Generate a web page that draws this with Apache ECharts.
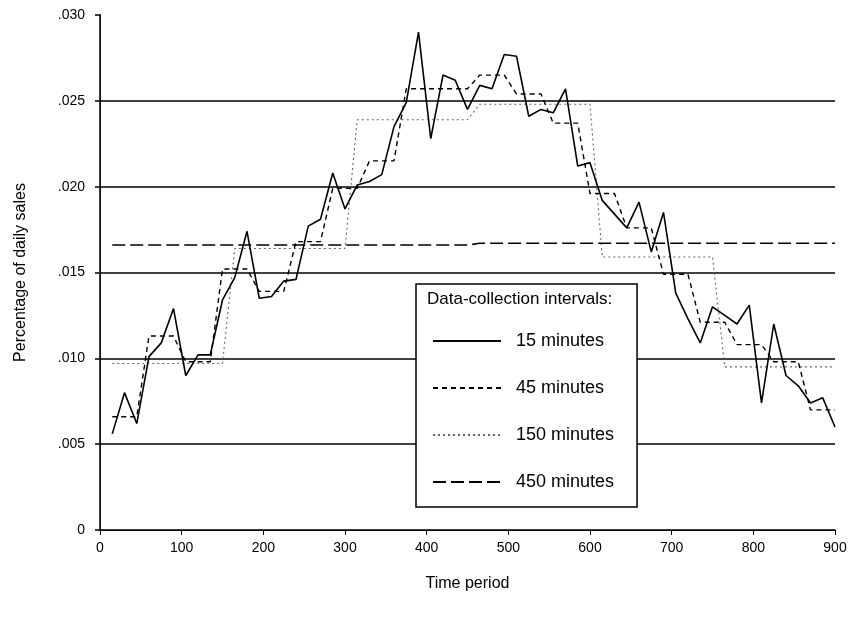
<!DOCTYPE html>
<html>
<head>
<meta charset="utf-8">
<script src="https://cdn.jsdelivr.net/npm/echarts@6/dist/echarts.min.js"></script>
<style>
    html, body { margin: 0; padding: 0; background: #fff; }
    #chart { width: 860px; height: 621px; }
</style>
</head>
<body>
<div id="chart"></div>
<script>
// time points (minutes)
const times = [15, 30, 45, 60, 75, 90, 105, 120, 135, 150,
    165, 180, 195, 210, 225, 240, 255, 270, 285, 300,
    315, 330, 345, 360, 375, 390, 405, 420, 435, 450,
    465, 480, 495, 510, 525, 540, 555, 570, 585, 600,
    615, 630, 645, 660, 675, 690, 705, 720, 735, 750,
    765, 780, 795, 810, 825, 840, 855, 870, 885, 900];

const sales15 = [.0056, .0080, .0062, .0101, .0109, .0129, .0090, .0102, .0102, .0134,
    .0147, .0174, .0135, .0136, .0145, .0146, .0177, .0181, .0208, .0187,
    .0201, .0203, .0207, .0235, .0249, .0290, .0228, .0265, .0262, .0245,
    .0259, .0257, .0277, .0276, .0241, .0245, .0243, .0257, .0212, .0214,
    .0192, .0184, .0176, .0191, .0162, .0185, .0138, .0123, .0109, .0130,
    .0125, .0120, .0131, .0074, .0120, .0090, .0084, .0074, .0077, .0060];

const sales45 = [.0066, .0066, .0066, .0113, .0113, .0113, .0098, .0098, .0098, .0152,
    .0152, .0152, .0139, .0139, .0139, .0168, .0168, .0168, .0199, .0199,
    .0199, .0215, .0215, .0215, .0257, .0257, .0257, .0257, .0257, .0257,
    .0265, .0265, .0265, .0254, .0254, .0254, .0237, .0237, .0237, .0196,
    .0196, .0196, .0176, .0176, .0176, .0149, .0149, .0149, .0121, .0121,
    .0121, .0108, .0108, .0108, .0098, .0098, .0098, .0070, .0070, .0070];

const sales150 = [.0097, .0097, .0097, .0097, .0097, .0097, .0097, .0097, .0097, .0097,
    .0164, .0164, .0164, .0164, .0164, .0164, .0164, .0164, .0164, .0164,
    .0239, .0239, .0239, .0239, .0239, .0239, .0239, .0239, .0239, .0239,
    .0248, .0248, .0248, .0248, .0248, .0248, .0248, .0248, .0248, .0248,
    .0159, .0159, .0159, .0159, .0159, .0159, .0159, .0159, .0159, .0159,
    .0095, .0095, .0095, .0095, .0095, .0095, .0095, .0095, .0095, .0095];

const sales450 = [.0166, .0166, .0166, .0166, .0166, .0166, .0166, .0166, .0166, .0166,
    .0166, .0166, .0166, .0166, .0166, .0166, .0166, .0166, .0166, .0166,
    .0166, .0166, .0166, .0166, .0166, .0166, .0166, .0166, .0166, .0166,
    .0167, .0167, .0167, .0167, .0167, .0167, .0167, .0167, .0167, .0167,
    .0167, .0167, .0167, .0167, .0167, .0167, .0167, .0167, .0167, .0167,
    .0167, .0167, .0167, .0167, .0167, .0167, .0167, .0167, .0167, .0167];

const seriesNames = ['15 minutes', '45 minutes', '150 minutes', '450 minutes'];
const yTickLabels = {0: '0', 0.005: '.005', 0.01: '.010', 0.015: '.015', 0.02: '.020', 0.025: '.025', 0.03: '.030'};

const font = 'Liberation Sans, Arial, Helvetica, sans-serif';
const chart = echarts.init(document.getElementById('chart'));

function pairs(vals) {
    return times.map((t, i) => [t, vals[i]]);
}

const option = {
    animation: false,
    textStyle: { fontFamily: font },
    grid: {
        left: 100,
        right: 25,
        top: 15,
        bottom: 91,
    },
    legend: {
        orient: 'vertical',
        left: 416,
        top: 284,
        data: seriesNames,
        selectedMode: false,
        itemWidth: 68,
        itemHeight: 14,
        itemGap: 29,
        padding: [48, 23, 16, 16],
        backgroundColor: '#fff',
        borderColor: '#000',
        borderWidth: 1.5,
        borderRadius: 0,
        itemStyle: { opacity: 0 },
        textStyle: {
            fontSize: 18,
            color: '#000',
            fontFamily: font,
            padding: [0, 0, 0, 10],
        },
    },
    graphic: [{
        type: 'text',
        left: 427,
        top: 291,
        z: 100,
        style: {
            text: 'Data-collection intervals:',
            fontSize: 17,
            fontFamily: font,
            fill: '#000',
        },
    }],
    xAxis: [{
        type: 'value',
        min: 0,
        max: 900,
        interval: 100,
        name: 'Time period',
        nameLocation: 'middle',
        nameGap: 46,
        nameTextStyle: { fontSize: 16, color: '#000' },
        axisLine: { lineStyle: { color: '#000', width: 1.5 } },
        axisTick: { length: 5, lineStyle: { color: '#000' } },
        axisLabel: { fontSize: 14, color: '#000', margin: 11 },
        splitLine: { show: false },
    }, {
        type: 'value',
        position: 'top',
        min: 0,
        max: 900,
        axisLine: { show: true, lineStyle: { color: '#000', type: 'dotted', width: 1 } },
        axisTick: { show: false },
        axisLabel: { show: false },
        splitLine: { show: false },
    }],
    yAxis: [{
        type: 'value',
        min: 0,
        max: 0.03,
        interval: 0.005,
        name: 'Percentage of daily sales',
        nameLocation: 'middle',
        nameGap: 71,
        nameTextStyle: { fontSize: 16, color: '#000' },
        axisLine: { show: true, lineStyle: { color: '#000', width: 1.5 } },
        axisTick: { show: true, length: 5, lineStyle: { color: '#000', width: 1.5 } },
        axisLabel: {
            fontSize: 14,
            color: '#000',
            margin: 15,
            formatter: v => yTickLabels[Math.round(v * 1000) / 1000],
        },
        splitLine: {
            lineStyle: {
                color: ['transparent', '#000', '#000', '#000', '#000', '#000', 'transparent'],
                width: 1.5,
            },
        },
    }, {
        type: 'value',
        position: 'right',
        min: 0,
        max: 0.03,
        axisLine: { show: true, lineStyle: { color: '#000', type: 'dotted', width: 1 } },
        axisTick: { show: false },
        axisLabel: { show: false },
        splitLine: { show: false },
    }],
    series: [
        {
            name: seriesNames[0],
            type: 'line',
            symbol: 'none',
            z: 5,
            lineStyle: { color: '#000', width: 1.6 },
            data: pairs(sales15),
        },
        {
            name: seriesNames[1],
            type: 'line',
            symbol: 'none',
            z: 4,
            lineStyle: { color: '#000', width: 1.4, type: [5, 4] },
            data: pairs(sales45),
        },
        {
            name: seriesNames[2],
            type: 'line',
            symbol: 'none',
            z: 3,
            lineStyle: { color: '#666', width: 1.1, type: [2, 3] },
            data: pairs(sales150),
        },
        {
            name: seriesNames[3],
            type: 'line',
            symbol: 'none',
            z: 3,
            lineStyle: { color: '#000', width: 1.6, type: [13, 5] },
            data: pairs(sales450),
        },
    ],
};

chart.setOption(option);
</script>
</body>
</html>
